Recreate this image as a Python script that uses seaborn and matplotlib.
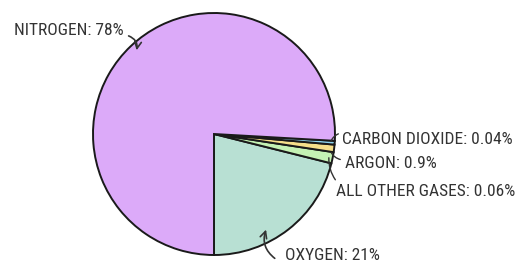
import matplotlib
matplotlib.use("Agg")
import matplotlib.pyplot as plt
import seaborn as sns

# gases, in drawing order (counter-clockwise from straight down)
gases = ["OXYGEN", "ALL OTHER GASES", "ARGON", "CARBON DIOXIDE", "NITROGEN"]
label_pct = ["21%", "0.06%", "0.9%", "0.04%", "78%"]
# slice sizes as drawn in the picture (tiny gases are exaggerated so they show)
drawn_size = [21.1, 1.5, 1.0, 0.5, 75.9]
colors = ["#b8e0d3", "#c4f2b4", "#f6df8a", "#8fd4ef", "#dcaaf9"]

sns.set_theme(style="white")
plt.rcParams["font.family"] = ["Roboto Condensed", "Roboto", "DejaVu Sans"]

W, H = 517, 266
CX, CY, R = 214, 134, 121   # pie centre / radius in pixels


def px(x, y):
    # pixel position -> data coords (pie radius = 1)
    return (x - CX) / R, (CY - y) / R


fig = plt.figure(figsize=(W / 100, H / 100), dpi=100)
ax = fig.add_axes([0, 0, 1, 1])
ax.pie(drawn_size, colors=colors, startangle=-90, counterclock=True,
       wedgeprops=dict(edgecolor="#1a1a1a", linewidth=1.4))
ax.set_xlim(-CX / R, (W - CX) / R)
ax.set_ylim(-(H - CY) / R, CY / R)
ax.set_aspect("equal")
ax.axis("off")

txt = dict(color="#333333", fontsize=12.5, va="center")
names = dict(zip(gases, [f"{g}: {p}" for g, p in zip(gases, label_pct)]))

# labels with curved arrows
ax.text(*px(14, 30), names["NITROGEN"], ha="left", **txt)
ax.annotate("", xy=px(136, 53), xytext=px(126, 35),
            arrowprops=dict(arrowstyle="->", color="#333333", lw=1.2,
                            connectionstyle="arc3,rad=-0.5"))

ax.text(*px(285, 256), names["OXYGEN"], ha="left", **txt)
ax.annotate("", xy=px(267, 227), xytext=px(277, 260),
            arrowprops=dict(arrowstyle="->", color="#333333", lw=1.2,
                            connectionstyle="arc3,rad=-0.4"))

ax.text(*px(342, 139), names["CARBON DIOXIDE"], ha="left", **txt)
ax.text(*px(345, 163), names["ARGON"], ha="left", **txt)
ax.text(*px(336, 191), names["ALL OTHER GASES"], ha="left", **txt)

# thin connector strokes from small labels to their slices
for start, end, rad in [((341, 133), (330, 144), 0.3),
                        ((343, 160), (330, 150), -0.3),
                        ((337, 182), (329, 155), -0.2)]:
    ax.annotate("", xy=px(*end), xytext=px(*start),
                arrowprops=dict(arrowstyle="-", color="#333333", lw=1.0,
                                connectionstyle=f"arc3,rad={rad}"))

fig.savefig("out.png", dpi=100)
